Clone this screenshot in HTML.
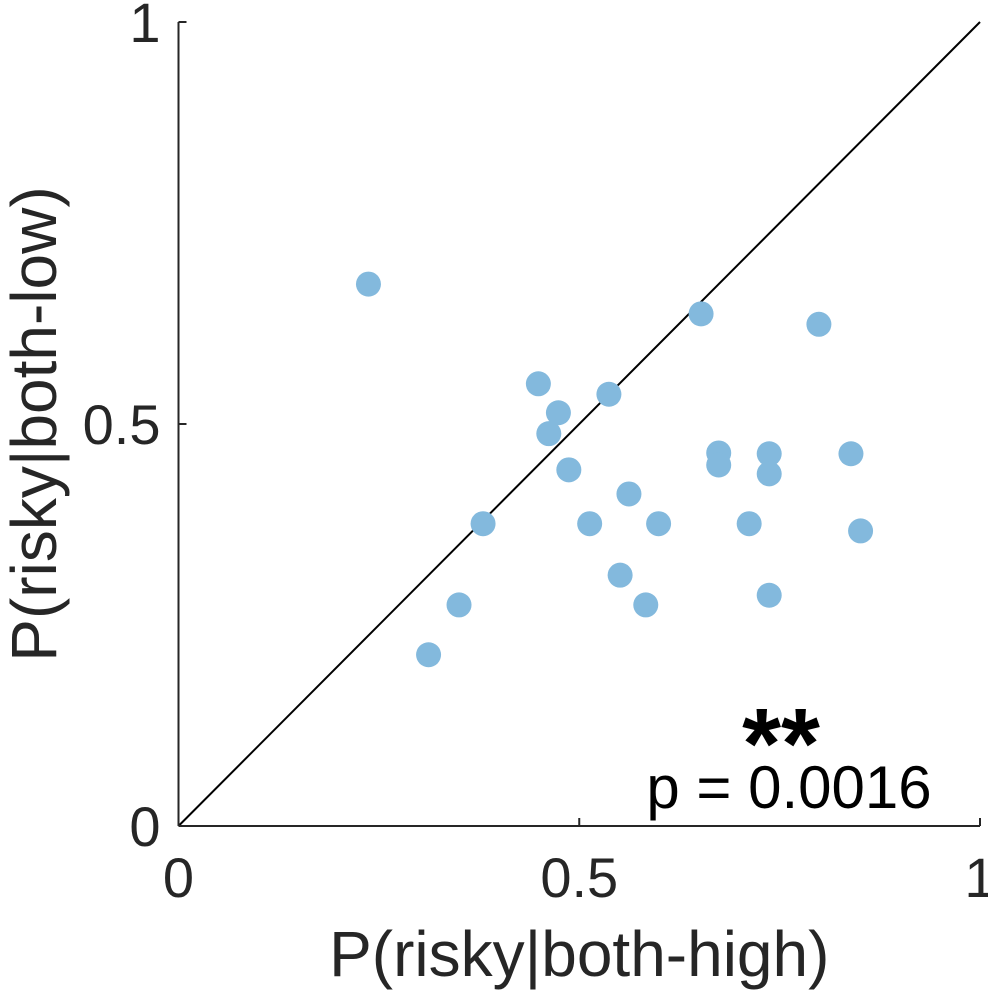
<!DOCTYPE html>
<html><head><meta charset="utf-8"><style>
html,body{margin:0;padding:0;background:#fff;}
svg{display:block;font-family:"Liberation Sans",sans-serif;}
</style></head><body>
<svg id="chart" width="988" height="992" viewBox="0 0 988 992" xmlns="http://www.w3.org/2000/svg">
</svg>
<script>
const xValues=[0.237,0.652,0.799,0.449,0.537,0.474,0.462,0.674,0.674,0.737,0.737,0.839,0.487,0.562,0.380,0.513,0.599,0.712,0.851,0.551,0.350,0.583,0.737,0.312];
const yValues=[0.674,0.637,0.624,0.550,0.537,0.514,0.488,0.464,0.449,0.463,0.438,0.463,0.443,0.413,0.376,0.376,0.376,0.376,0.367,0.312,0.275,0.275,0.287,0.213];
const tickValues=[0,0.5,1];
const tickLabels=["0","0.5","1"];

const X0=178.5,X1=980,Y0=826,Y1=22;
const sx=v=>X0+(X1-X0)*v;
const sy=v=>Y0-(Y0-Y1)*v;
const svg=document.getElementById('chart');
const NS='http://www.w3.org/2000/svg';
function mk(tag,attrs,parent){const e=document.createElementNS(NS,tag);for(const k in attrs)e.setAttribute(k,attrs[k]);(parent||svg).appendChild(e);return e;}

let d=mk('line',{x1:sx(0),y1:sy(0),x2:sx(1),y2:sy(1),stroke:'#000','stroke-width':2});



const pts=mk('g',{});


xValues.forEach((xv,i)=>{
  const c=mk('circle',{cx:sx(xv),cy:sy(yValues[i]),r:12.5,fill:'#83b9dd'},pts);
  
  
});

let ax=mk('line',{x1:X0,y1:Y0,x2:X1,y2:Y0,stroke:'#262626','stroke-width':2});


let ay=mk('line',{x1:X0,y1:Y0,x2:X0,y2:Y1,stroke:'#262626','stroke-width':2});



tickValues.forEach((t,i)=>{
  mk('line',{x1:sx(t),y1:Y0,x2:sx(t),y2:Y0-8,stroke:'#262626','stroke-width':2});
  mk('line',{x1:X0,y1:sy(t),x2:X0+8,y2:sy(t),stroke:'#262626','stroke-width':2});
  const tx=mk('text',{x:sx(t),y:897,'text-anchor':'middle','font-size':56,fill:'#262626'});
  tx.textContent=tickLabels[i];
  
  
  const ty=mk('text',{x:X0-18,y:sy(t)+20,'text-anchor':'end','font-size':56,fill:'#262626'});
  ty.textContent=tickLabels[i];
  
  
});

let xl=mk('text',{x:(X0+X1)/2,y:976,'text-anchor':'middle','font-size':64,fill:'#262626'});
xl.textContent='P(risky|both-high)';


let yl=mk('text',{x:0,y:0,'text-anchor':'middle','font-size':64,fill:'#262626',transform:`translate(56,${(Y0+Y1)/2}) rotate(-90)`});
yl.textContent='P(risky|both-low)';



let st=mk('text',{x:781,y:778,'text-anchor':'middle','font-size':100,'font-weight':'bold',fill:'#000'});
st.textContent='**';


let pv=mk('text',{x:789,y:808,'text-anchor':'middle','font-size':60,fill:'#000'});
pv.textContent='p = 0.0016';


</script>
</body></html>
